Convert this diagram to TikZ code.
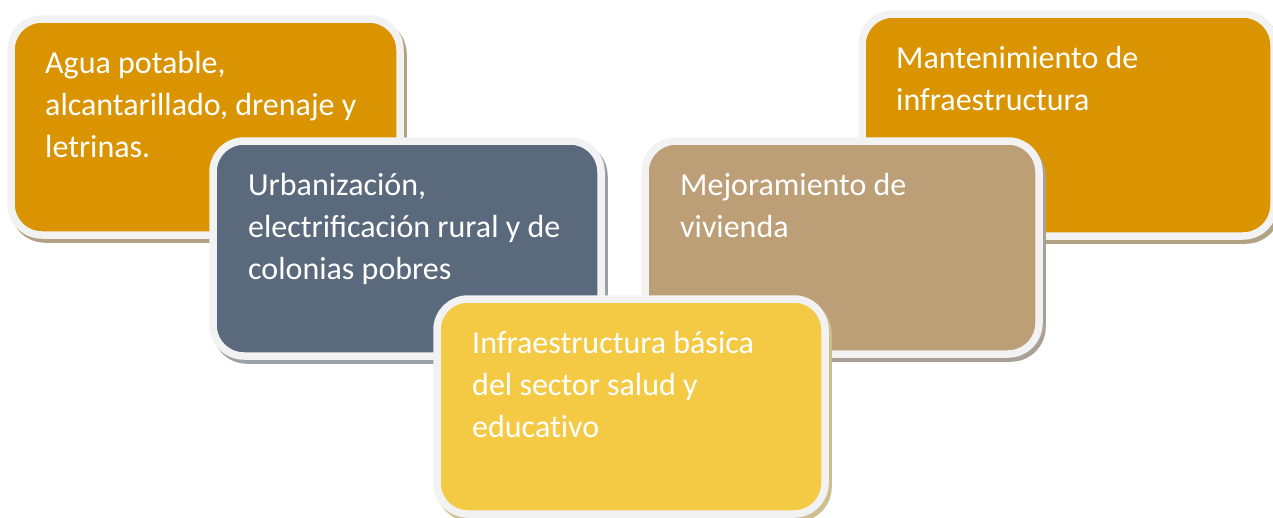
\documentclass[tikz,border=0pt]{standalone}
\usepackage{fontspec}
\setmainfont[Ligatures=NoCommon]{Carlito}
\definecolor{cOrange}{HTML}{DB9401}
\definecolor{cSlate}{HTML}{5A697C}
\definecolor{cTan}{HTML}{BC9F77}
\definecolor{cYellow}{HTML}{F4CA45}
\definecolor{cRim}{HTML}{F2F2F2}
\definecolor{sOrange}{HTML}{B3A183}
\definecolor{sSlate}{HTML}{9B9FA6}
\definecolor{sTan}{HTML}{A9A096}
\definecolor{sYellow}{HTML}{CFBF8E}
\tikzset{
  boxshape/.style={rounded corners=31pt, line width=7.5pt},
  panel/.style={boxshape, draw=cRim},
  panelshadow/.style={boxshape},
  lbl/.style={anchor=base west, inner sep=0pt, text=white, font=\fontsize{32}{42}\selectfont}
}
\newcommand{\lines}[1]{\parbox[t]{420pt}{\raggedright #1}}
\begin{document}
\begin{tikzpicture}[x=1pt,y=-1pt]
\useasboundingbox (0,0) rectangle (1273,517);
% box 1 : Agua potable
\draw[panelshadow, draw=sOrange, fill=sOrange] (14,23) rectangle (403,239);
\draw[panel, fill=cOrange] (11,19) rectangle (400,235);
\node[lbl] (t1) at (45,73) {\lines{Agua potable,\\alcantarillado, drenaje y\\letrinas.}};
% box 4 : Mantenimiento
\draw[panelshadow, draw=sOrange, fill=sOrange] (865,18) rectangle (1277,240);
\draw[panel, fill=cOrange] (862,14) rectangle (1274,236);
\node[lbl] (t4) at (896,68) {\lines{Mantenimiento de\\infraestructura}};
% box 2 : Urbanizacion
\draw[panelshadow, draw=sSlate, fill=sSlate] (216,145) rectangle (604,360);
\draw[panel, fill=cSlate] (213,141) rectangle (601,356);
\node[lbl] (t2) at (248,195) {\lines{Urbanización,\\electri^^^^fb01cación rural y de\\colonias pobres}};
% box 3 : Mejoramiento
\draw[panelshadow, draw=sTan, fill=sTan] (648,145) rectangle (1042,358);
\draw[panel, fill=cTan] (645,141) rectangle (1039,354);
\node[lbl] (t3) at (680,195) {\lines{Mejoramiento de\\vivienda}};
% box 5 : Infraestructura basica
\draw[panelshadow, draw=sYellow, fill=sYellow] (440,303) rectangle (828,518);
\draw[panel, fill=cYellow] (437,299) rectangle (825,514);
\node[lbl] (t5) at (472,353) {\lines{Infraestructura básica\\del sector salud y\\educativo}};
\end{tikzpicture}
\end{document}
